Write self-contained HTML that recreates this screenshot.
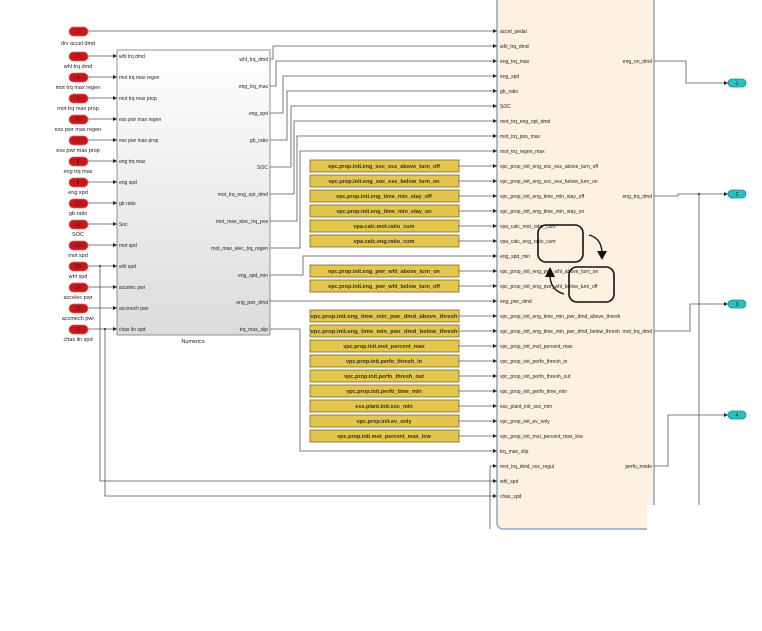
<!DOCTYPE html>
<html><head><meta charset="utf-8"><style>
body{margin:0;background:#fff}
svg{display:block;font-family:"Liberation Sans",sans-serif}
.p{font-size:5px;fill:#222}
.l{font-size:5.5px;fill:#222}
.c{font-size:5.5px;fill:#332;font-weight:bold;text-anchor:middle}
.w{stroke:#555;stroke-width:0.8;fill:none}
.y{fill:#e3c64e;stroke:#7a6a28;stroke-width:0.8}
.r{fill:#c8161a;stroke:#e06a6a;stroke-width:0.8}
.t{fill:#2cbfc0;stroke:#138a8a;stroke-width:0.8}
</style></head><body>
<svg width="762" height="631" viewBox="0 0 762 631">
<defs>
<linearGradient id="g" x1="0" y1="0" x2="0" y2="1"><stop offset="0" stop-color="#fff"/><stop offset="1" stop-color="#dcdcdc"/></linearGradient>
<marker id="a" markerWidth="4" markerHeight="4" refX="4" refY="2" orient="auto" markerUnits="userSpaceOnUse"><path d="M0,0L4,2L0,4z" fill="#222"/></marker>
</defs>
<!-- right block -->
<rect x="497" y="-6" width="157" height="535" rx="6" fill="#fdf2e2" stroke="#8fa6c2" stroke-width="1.5"/>
<rect x="647" y="505" width="20" height="30" fill="#fff"/>
<!-- Numerics block -->
<rect x="117" y="50" width="153" height="285" fill="url(#g)" stroke="#777" stroke-width="0.8"/>
<text x="193" y="343" class="l" text-anchor="middle">Numerics</text>

<!-- red inports -->
<g class="r">
<rect x="69" y="27" width="19" height="9" rx="4.5"/><rect x="69" y="52" width="19" height="9" rx="4.5"/><rect x="69" y="73" width="19" height="9" rx="4.5"/><rect x="69" y="94" width="19" height="9" rx="4.5"/><rect x="69" y="115" width="19" height="9" rx="4.5"/><rect x="69" y="136" width="19" height="9" rx="4.5"/><rect x="69" y="157" width="19" height="9" rx="4.5"/><rect x="69" y="178" width="19" height="9" rx="4.5"/><rect x="69" y="199" width="19" height="9" rx="4.5"/><rect x="69" y="220" width="19" height="9" rx="4.5"/><rect x="69" y="241" width="19" height="9" rx="4.5"/><rect x="69" y="262" width="19" height="9" rx="4.5"/><rect x="69" y="283" width="19" height="9" rx="4.5"/><rect x="69" y="304" width="19" height="9" rx="4.5"/><rect x="69" y="325" width="19" height="9" rx="4.5"/>
</g>
<g class="l" text-anchor="middle">
<text x="78" y="45">drv accel dmd</text><text x="78" y="68">whl trq dmd</text><text x="78" y="89">mot trq max regen</text><text x="78" y="110">mot trq max prop</text><text x="78" y="131">ess pwr max regen</text><text x="78" y="152">ess pwr max prop</text><text x="78" y="173">eng trq max</text><text x="78" y="194">eng spd</text><text x="78" y="215">gb ratio</text><text x="78" y="236">SOC</text><text x="78" y="257">mot spd</text><text x="78" y="278">whl spd</text><text x="78" y="299">accelec pwr</text><text x="78" y="320">accmech pwr</text><text x="78" y="341">chas lin spd</text>
</g>
<!-- inport wires -->
<g class="w" marker-end="url(#a)">
<path d="M88 31H497"/>
<path d="M88 56H117"/><path d="M88 77H117"/><path d="M88 98H117"/><path d="M88 119H117"/><path d="M88 140H117"/><path d="M88 161H117"/><path d="M88 182H117"/><path d="M88 203H117"/><path d="M88 224H117"/><path d="M88 245H117"/><path d="M88 266H117"/><path d="M88 287H117"/><path d="M88 308H117"/><path d="M88 329H117"/>
<path d="M100 266V481H497"/><path d="M105 329V496H497"/>
<path d="M270 59H273V46H497"/><path d="M270 86H276V61H497"/><path d="M270 113H283V76H497"/><path d="M270 140H287V91H497"/><path d="M270 167H291V106H497"/><path d="M270 194H294V121H497"/><path d="M270 221H297V136H497"/><path d="M270 248H300V151H497"/><path d="M270 275H303V256H497"/><path d="M270 301H497"/><path d="M270 329H300V451H497"/>
<path d="M490 529V466H497"/>
<path d="M459 166H497"/><path d="M459 181H497"/><path d="M459 196H497"/><path d="M459 211H497"/><path d="M459 226H497"/><path d="M459 241H497"/><path d="M459 271H497"/><path d="M459 286H497"/>
<path d="M459 316H497"/><path d="M459 331H497"/><path d="M459 346H497"/><path d="M459 361H497"/><path d="M459 376H497"/><path d="M459 391H497"/><path d="M459 406H497"/><path d="M459 421H497"/><path d="M459 436H497"/>
<path d="M654 61H686V83H728"/><path d="M654 196H678V194H728"/><path d="M654 331H690V304H728"/><path d="M654 466H668V415H728"/>
</g>
<path class="w" d="M699 194V505"/>
<circle cx="100" cy="266" r="1" fill="#222"/><circle cx="105" cy="329" r="1" fill="#222"/><circle cx="699" cy="194" r="1" fill="#222"/>
<!-- Numerics ports -->
<g class="p">
<text x="119" y="58">whl trq dmd</text><text x="119" y="79">mot trq max regen</text><text x="119" y="100">mot trq max prop</text><text x="119" y="121">ess pwr max regen</text><text x="119" y="142">ess pwr max prop</text><text x="119" y="163">eng trq max</text><text x="119" y="184">eng spd</text><text x="119" y="205">gb ratio</text><text x="119" y="226">Soc</text><text x="119" y="247">mot spd</text><text x="119" y="268">whl spd</text><text x="119" y="289">accelec pwr</text><text x="119" y="310">accmech pwr</text><text x="119" y="331">chas lin spd</text>
</g>
<g class="p" text-anchor="end">
<text x="268" y="61">whl_trq_dmd</text><text x="268" y="88">eng_trq_max</text><text x="268" y="115">eng_spd</text><text x="268" y="142">gb_ratio</text><text x="268" y="169">SOC</text><text x="268" y="196">mot_trq_eng_opt_dmd</text><text x="268" y="223">mot_max_elec_trq_pos</text><text x="268" y="250">mot_max_elec_trq_regen</text><text x="268" y="277">eng_spd_min</text><text x="268" y="304">eng_pwr_dmd</text><text x="268" y="331">trq_max_slip</text>
</g>
<!-- constants -->
<g class="y">
<rect x="310" y="160" width="149" height="12"/><rect x="310" y="175" width="149" height="12"/><rect x="310" y="190" width="149" height="12"/><rect x="310" y="205" width="149" height="12"/><rect x="310" y="220" width="149" height="12"/><rect x="310" y="235" width="149" height="12"/><rect x="310" y="265" width="149" height="12"/><rect x="310" y="280" width="149" height="12"/>
<rect x="310" y="310" width="149" height="12"/><rect x="310" y="325" width="149" height="12"/><rect x="310" y="340" width="149" height="12"/><rect x="310" y="355" width="149" height="12"/><rect x="310" y="370" width="149" height="12"/><rect x="310" y="385" width="149" height="12"/><rect x="310" y="400" width="149" height="12"/><rect x="310" y="415" width="149" height="12"/><rect x="310" y="430" width="149" height="12"/>
</g>
<g class="c">
<text x="384" y="168">vpc.prop.init.eng_soc_ess_above_turn_off</text><text x="384" y="183">vpc.prop.init.eng_soc_ess_below_turn_on</text><text x="384" y="198">vpc.prop.init.eng_time_min_stay_off</text><text x="384" y="213">vpc.prop.init.eng_time_min_stay_on</text><text x="384" y="228">vpa.calc.mot.ratio_cum</text><text x="384" y="243">vpa.calc.eng.ratio_cum</text><text x="384" y="273">vpc.prop.init.eng_pwr_whl_above_turn_on</text><text x="384" y="288">vpc.prop.init.eng_pwr_whl_below_turn_off</text>
<text x="384" y="318" textLength="147" lengthAdjust="spacingAndGlyphs">vpc.prop.init.eng_time_min_pwr_dmd_above_thresh</text><text x="384" y="333" textLength="147" lengthAdjust="spacingAndGlyphs">vpc.prop.init.eng_time_min_pwr_dmd_below_thresh</text><text x="384" y="348">vpc.prop.init.mot_percent_max</text><text x="384" y="363">vpc.prop.init.perfo_thresh_in</text><text x="384" y="378">vpc.prop.init.perfo_thresh_out</text><text x="384" y="393">vpc.prop.init.perfo_time_min</text><text x="384" y="408">ess.plant.init.soc_min</text><text x="384" y="423">vpc.prop.init.ev_only</text><text x="384" y="438">vpc.prop.init.mot_percent_max_low</text>
</g>
<!-- right block port labels -->
<g class="p">
<text x="500" y="33">accel_pedal</text><text x="500" y="48">whl_trq_dmd</text><text x="500" y="63">eng_trq_max</text><text x="500" y="78">eng_spd</text><text x="500" y="93">gb_ratio</text><text x="500" y="108">SOC</text><text x="500" y="123">mot_trq_eng_opt_dmd</text><text x="500" y="138">mot_trq_pos_max</text><text x="500" y="153">mot_trq_regen_max</text><text x="500" y="168">vpc_prop_init_eng_soc_ess_above_turn_off</text><text x="500" y="183">vpc_prop_init_eng_soc_ess_below_turn_on</text><text x="500" y="198">vpc_prop_init_eng_time_min_stay_off</text><text x="500" y="213">vpc_prop_init_eng_time_min_stay_on</text><text x="500" y="228">vpa_calc_mot_ratio_cum</text><text x="500" y="243">vpa_calc_eng_ratio_cum</text><text x="500" y="258">eng_spd_min</text><text x="500" y="273">vpc_prop_init_eng_pwr_whl_above_turn_on</text><text x="500" y="288">vpc_prop_init_eng_pwr_whl_below_turn_off</text><text x="500" y="303">eng_pwr_dmd</text><text x="500" y="318">vpc_prop_init_eng_time_min_pwr_dmd_above_thresh</text><text x="500" y="333">vpc_prop_init_eng_time_min_pwr_dmd_below_thresh</text><text x="500" y="348">vpc_prop_init_mot_percent_max</text><text x="500" y="363">vpc_prop_init_perfo_thresh_in</text><text x="500" y="378">vpc_prop_init_perfo_thresh_out</text><text x="500" y="393">vpc_prop_init_perfo_time_min</text><text x="500" y="408">ess_plant_init_soc_min</text><text x="500" y="423">vpc_prop_init_ev_only</text><text x="500" y="438">vpc_prop_init_mot_percent_max_low</text><text x="500" y="453">trq_max_slip</text><text x="500" y="468">mot_trq_dmd_soc_regul</text><text x="500" y="483">whl_spd</text><text x="500" y="498">chas_spd</text>
</g>
<g class="p" text-anchor="end">
<text x="652" y="63">eng_on_dmd</text><text x="652" y="198">eng_trq_dmd</text><text x="652" y="333">mot_trq_dmd</text><text x="652" y="468">perfo_mode</text>
</g>
<!-- stateflow icon -->
<rect x="538" y="225" width="45" height="37" rx="8" fill="none" stroke="#111" stroke-width="1.6"/>
<rect x="569" y="267" width="45" height="35" rx="8" fill="none" stroke="#111" stroke-width="1.6"/>
<path d="M589 235Q601 238 602 252" fill="none" stroke="#111" stroke-width="1.4"/><path d="M597 251L607 251L602 260z" fill="#111"/>
<path d="M564 294Q550 290 550 275" fill="none" stroke="#111" stroke-width="1.4"/><path d="M545 277L555 277L550 267z" fill="#111"/>
<!-- outports -->
<g class="t">
<rect x="728" y="79" width="18" height="8" rx="4"/><rect x="728" y="190" width="18" height="8" rx="4"/><rect x="728" y="300" width="18" height="8" rx="4"/><rect x="728" y="411" width="18" height="8" rx="4"/>
</g>
<g class="p" text-anchor="middle"><text x="737" y="85">1</text><text x="737" y="196">2</text><text x="737" y="306">3</text><text x="737" y="417">4</text></g>
<g class="p" text-anchor="middle" fill="#600">
<text x="78" y="33">1</text><text x="78" y="58">2</text><text x="78" y="79">4</text><text x="78" y="100">5</text><text x="78" y="121">6</text><text x="78" y="142">7</text><text x="78" y="163">8</text><text x="78" y="184">9</text><text x="78" y="205">10</text><text x="78" y="226">11</text><text x="78" y="247">12</text><text x="78" y="268">13</text><text x="78" y="289">14</text><text x="78" y="310">15</text><text x="78" y="331">3</text>
</g>
</svg>
</body></html>
